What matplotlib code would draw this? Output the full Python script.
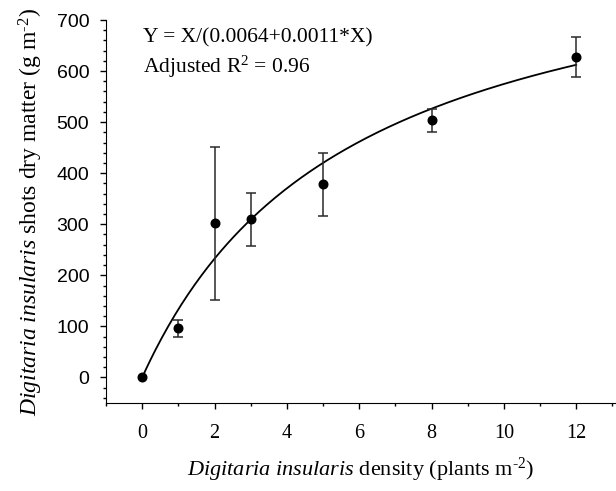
import numpy as np
import matplotlib
matplotlib.use("Agg")
import matplotlib.pyplot as plt
from matplotlib.ticker import MultipleLocator

density = [0, 1, 2, 3, 5, 8, 12]
dry_matter = [0, 96, 303, 310, 379, 504, 628]
err_low = [0, 17, 152, 53, 63, 24, 40]
err_high = [0, 16, 149, 51, 61, 21, 39]
a_coef = 0.0064
b_coef = 0.0011
x_ticks = [0, 2, 4, 6, 8, 10, 12]
y_ticks = [0, 100, 200, 300, 400, 500, 600, 700]

serif = 'Liberation Serif'
plt.rcParams['mathtext.fontset'] = 'custom'
plt.rcParams['mathtext.rm'] = serif
plt.rcParams['mathtext.it'] = serif + ':italic'
plt.rcParams['mathtext.bf'] = serif + ':bold'

fig = plt.figure(figsize=(6.16, 4.91), dpi=100)
ax = fig.add_axes([106/616, 1-403/491, (616-106)/616, (403-20)/491])

xf = np.linspace(0, 12, 200)
yf = xf / (a_coef + b_coef * xf)
ax.plot(xf, yf, color='black', lw=1.3, zorder=2)
ax.errorbar(density[1:], dry_matter[1:], yerr=[err_low[1:], err_high[1:]], fmt='none',
            ecolor='#2a2a2a', elinewidth=1.1, capsize=3.8, capthick=1.1, zorder=3)
ax.plot(density, dry_matter, 'o', color='black', ms=6.2, zorder=4)

ax.set_xlim(-1, 13.1)
ax.set_ylim(-50, 700)
ax.set_xticks(x_ticks)
ax.set_yticks(y_ticks)
ax.xaxis.set_minor_locator(MultipleLocator(1))
ax.yaxis.set_minor_locator(MultipleLocator(20))
for s in ['top', 'right']:
    ax.spines[s].set_visible(False)
ax.tick_params(which='major', direction='out', length=4, width=1)
ax.tick_params(which='minor', direction='out', length=2.5, width=1)
ax.tick_params(axis='x', pad=11)
ax.tick_params(axis='y', pad=8)
for lab in ax.get_xticklabels():
    lab.set_fontfamily(serif)
    lab.set_fontsize(14.5)
for lab in ax.get_yticklabels():
    lab.set_fontfamily('Liberation Sans')
    lab.set_fontsize(14)

sup = '\u2010' + '2'
ax.set_xlabel(r'$\mathit{Digitaria\ insularis}$ density (plants m$^{' + sup + '}$)',
              fontfamily=serif, fontsize=16, labelpad=9)
ax.set_ylabel(r'$\mathit{Digitaria\ insularis}$ shots dry matter (g m$^{' + sup + '}$)',
              fontfamily=serif, fontsize=17, labelpad=8)

ax.text(0.072, 0.942, 'Y = X/(0.0064+0.0011*X)', transform=ax.transAxes,
        fontfamily=serif, fontsize=15.5, va='baseline', ha='left')
ax.text(0.072, 0.862, r'Adjusted R$^2$ = 0.96', transform=ax.transAxes,
        fontfamily=serif, fontsize=15.5, va='baseline', ha='left')

fig.savefig('out.png', dpi=100)
